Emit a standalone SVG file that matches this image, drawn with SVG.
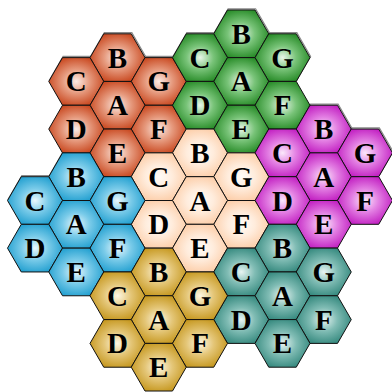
<svg xmlns="http://www.w3.org/2000/svg" xmlns:xlink="http://www.w3.org/1999/xlink" width="392" height="392" viewBox="0 0 392 392">
<style>
.hx{stroke:#111;stroke-width:1;stroke-linejoin:miter}
.sh{fill:none;stroke:#8a8a8a;stroke-width:1.2}
.lb{font-family:"Liberation Serif","Times New Roman",serif;font-weight:bold;font-size:29px;text-anchor:middle;fill:#000}
.red .hx{fill:url(#gRed)}
.green .hx{fill:url(#gGreen)}
.peach .hx{fill:url(#gPeach)}
.magenta .hx{fill:url(#gMag)}
.blue .hx{fill:url(#gBlue)}
.gold .hx{fill:url(#gGold)}
.teal .hx{fill:url(#gTeal)}
</style>
<defs>
<polygon id="hex" points="-27.5,0 -13.75,-23.82 13.75,-23.82 27.5,0 13.75,23.82 -13.75,23.82"/>
<radialGradient id="gRed" cx="50%" cy="50%" r="55%"><stop offset="0" stop-color="#fbebe5"/><stop offset="0.45" stop-color="#e69a7e"/><stop offset="1" stop-color="#c7441b"/></radialGradient>
<radialGradient id="gGreen" cx="50%" cy="50%" r="55%"><stop offset="0" stop-color="#eaf6ea"/><stop offset="0.45" stop-color="#78c378"/><stop offset="1" stop-color="#238823"/></radialGradient>
<radialGradient id="gPeach" cx="50%" cy="50%" r="55%"><stop offset="0" stop-color="#fffcf8"/><stop offset="0.45" stop-color="#ffecdc"/><stop offset="1" stop-color="#fccca6"/></radialGradient>
<radialGradient id="gMag" cx="50%" cy="50%" r="55%"><stop offset="0" stop-color="#fbe8fb"/><stop offset="0.45" stop-color="#e380e3"/><stop offset="1" stop-color="#c01bc0"/></radialGradient>
<radialGradient id="gBlue" cx="50%" cy="50%" r="55%"><stop offset="0" stop-color="#ebf8fd"/><stop offset="0.45" stop-color="#7acbe9"/><stop offset="1" stop-color="#1f9ecf"/></radialGradient>
<radialGradient id="gGold" cx="50%" cy="50%" r="55%"><stop offset="0" stop-color="#fdf7e4"/><stop offset="0.45" stop-color="#e4c678"/><stop offset="1" stop-color="#c4951a"/></radialGradient>
<radialGradient id="gTeal" cx="50%" cy="50%" r="55%"><stop offset="0" stop-color="#e9f5f3"/><stop offset="0.45" stop-color="#80bcb4"/><stop offset="1" stop-color="#32877c"/></radialGradient>
</defs>
<g id="shadows" transform="translate(0.6,-1.2)">
<use href="#hex" class="sh" x="117.5" y="57.6"/><use href="#hex" class="sh" x="76.25" y="81.4"/><use href="#hex" class="sh" x="241.25" y="33.8"/><use href="#hex" class="sh" x="200" y="57.6"/><use href="#hex" class="sh" x="282.5" y="57.6"/><use href="#hex" class="sh" x="323.75" y="129.1"/><use href="#hex" class="sh" x="365" y="152.9"/><use href="#hex" class="sh" x="76.25" y="176.7"/><use href="#hex" class="sh" x="35" y="200.5"/><use href="#hex" class="sh" x="282.5" y="248.1"/><use href="#hex" class="sh" x="158.75" y="81.4"/>
</g>
<g id="red" class="red" transform="translate(117.5,105.25)">
<g id="red-B" transform="translate(0,-47.63)"><use href="#hex" class="hx"/><text class="lb" y="10">B</text></g>
<g id="red-C" transform="translate(-41.25,-23.82)"><use href="#hex" class="hx"/><text class="lb" y="10">C</text></g>
<g id="red-G" transform="translate(41.25,-23.82)"><use href="#hex" class="hx"/><text class="lb" y="10">G</text></g>
<g id="red-A"><use href="#hex" class="hx"/><text class="lb" y="10">A</text></g>
<g id="red-D" transform="translate(-41.25,23.82)"><use href="#hex" class="hx"/><text class="lb" y="10">D</text></g>
<g id="red-F" transform="translate(41.25,23.82)"><use href="#hex" class="hx"/><text class="lb" y="10">F</text></g>
<g id="red-E" transform="translate(0,47.63)"><use href="#hex" class="hx"/><text class="lb" y="10">E</text></g>
</g>
<g id="green" class="green" transform="translate(241.25,81.42)">
<g id="green-B" transform="translate(0,-47.63)"><use href="#hex" class="hx"/><text class="lb" y="10">B</text></g>
<g id="green-C" transform="translate(-41.25,-23.82)"><use href="#hex" class="hx"/><text class="lb" y="10">C</text></g>
<g id="green-G" transform="translate(41.25,-23.82)"><use href="#hex" class="hx"/><text class="lb" y="10">G</text></g>
<g id="green-A"><use href="#hex" class="hx"/><text class="lb" y="10">A</text></g>
<g id="green-D" transform="translate(-41.25,23.82)"><use href="#hex" class="hx"/><text class="lb" y="10">D</text></g>
<g id="green-F" transform="translate(41.25,23.82)"><use href="#hex" class="hx"/><text class="lb" y="10">F</text></g>
<g id="green-E" transform="translate(0,47.63)"><use href="#hex" class="hx"/><text class="lb" y="10">E</text></g>
</g>
<g id="magenta" class="magenta" transform="translate(323.75,176.68)">
<g id="magenta-B" transform="translate(0,-47.63)"><use href="#hex" class="hx"/><text class="lb" y="10">B</text></g>
<g id="magenta-C" transform="translate(-41.25,-23.82)"><use href="#hex" class="hx"/><text class="lb" y="10">C</text></g>
<g id="magenta-G" transform="translate(41.25,-23.82)"><use href="#hex" class="hx"/><text class="lb" y="10">G</text></g>
<g id="magenta-A"><use href="#hex" class="hx"/><text class="lb" y="10">A</text></g>
<g id="magenta-D" transform="translate(-41.25,23.82)"><use href="#hex" class="hx"/><text class="lb" y="10">D</text></g>
<g id="magenta-F" transform="translate(41.25,23.82)"><use href="#hex" class="hx"/><text class="lb" y="10">F</text></g>
<g id="magenta-E" transform="translate(0,47.63)"><use href="#hex" class="hx"/><text class="lb" y="10">E</text></g>
</g>
<g id="peach" class="peach" transform="translate(200,200.5)">
<g id="peach-B" transform="translate(0,-47.63)"><use href="#hex" class="hx"/><text class="lb" y="10">B</text></g>
<g id="peach-C" transform="translate(-41.25,-23.82)"><use href="#hex" class="hx"/><text class="lb" y="10">C</text></g>
<g id="peach-G" transform="translate(41.25,-23.82)"><use href="#hex" class="hx"/><text class="lb" y="10">G</text></g>
<g id="peach-A"><use href="#hex" class="hx"/><text class="lb" y="10">A</text></g>
<g id="peach-D" transform="translate(-41.25,23.82)"><use href="#hex" class="hx"/><text class="lb" y="10">D</text></g>
<g id="peach-F" transform="translate(41.25,23.82)"><use href="#hex" class="hx"/><text class="lb" y="10">F</text></g>
<g id="peach-E" transform="translate(0,47.63)"><use href="#hex" class="hx"/><text class="lb" y="10">E</text></g>
</g>
<g id="blue" class="blue" transform="translate(76.25,224.32)">
<g id="blue-B" transform="translate(0,-47.63)"><use href="#hex" class="hx"/><text class="lb" y="10">B</text></g>
<g id="blue-C" transform="translate(-41.25,-23.82)"><use href="#hex" class="hx"/><text class="lb" y="10">C</text></g>
<g id="blue-G" transform="translate(41.25,-23.82)"><use href="#hex" class="hx"/><text class="lb" y="10">G</text></g>
<g id="blue-A"><use href="#hex" class="hx"/><text class="lb" y="10">A</text></g>
<g id="blue-D" transform="translate(-41.25,23.82)"><use href="#hex" class="hx"/><text class="lb" y="10">D</text></g>
<g id="blue-F" transform="translate(41.25,23.82)"><use href="#hex" class="hx"/><text class="lb" y="10">F</text></g>
<g id="blue-E" transform="translate(0,47.63)"><use href="#hex" class="hx"/><text class="lb" y="10">E</text></g>
</g>
<g id="teal" class="teal" transform="translate(282.5,295.76)">
<g id="teal-B" transform="translate(0,-47.63)"><use href="#hex" class="hx"/><text class="lb" y="10">B</text></g>
<g id="teal-C" transform="translate(-41.25,-23.82)"><use href="#hex" class="hx"/><text class="lb" y="10">C</text></g>
<g id="teal-G" transform="translate(41.25,-23.82)"><use href="#hex" class="hx"/><text class="lb" y="10">G</text></g>
<g id="teal-A"><use href="#hex" class="hx"/><text class="lb" y="10">A</text></g>
<g id="teal-D" transform="translate(-41.25,23.82)"><use href="#hex" class="hx"/><text class="lb" y="10">D</text></g>
<g id="teal-F" transform="translate(41.25,23.82)"><use href="#hex" class="hx"/><text class="lb" y="10">F</text></g>
<g id="teal-E" transform="translate(0,47.63)"><use href="#hex" class="hx"/><text class="lb" y="10">E</text></g>
</g>
<g id="gold" class="gold" transform="translate(158.75,319.58)">
<g id="gold-B" transform="translate(0,-47.63)"><use href="#hex" class="hx"/><text class="lb" y="10">B</text></g>
<g id="gold-C" transform="translate(-41.25,-23.82)"><use href="#hex" class="hx"/><text class="lb" y="10">C</text></g>
<g id="gold-G" transform="translate(41.25,-23.82)"><use href="#hex" class="hx"/><text class="lb" y="10">G</text></g>
<g id="gold-A"><use href="#hex" class="hx"/><text class="lb" y="10">A</text></g>
<g id="gold-D" transform="translate(-41.25,23.82)"><use href="#hex" class="hx"/><text class="lb" y="10">D</text></g>
<g id="gold-F" transform="translate(41.25,23.82)"><use href="#hex" class="hx"/><text class="lb" y="10">F</text></g>
<g id="gold-E" transform="translate(0,47.63)"><use href="#hex" class="hx"/><text class="lb" y="10">E</text></g>
</g>
</svg>
